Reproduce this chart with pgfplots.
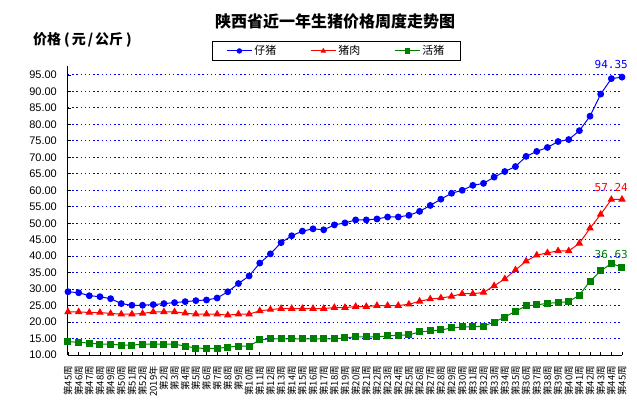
\documentclass[border=0pt]{standalone}
\usepackage{fontspec}
\setmainfont{Liberation Sans}
\newfontfamily\cjk{Noto Sans CJK SC}
\newfontfamily\mono{DejaVu Sans Mono}
\usepackage{pgfplots}
\usepackage{pgfplotstable}
\pgfplotsset{compat=1.18}
\definecolor{pblue}{RGB}{0,0,255}
\definecolor{pred}{RGB}{255,0,0}
\definecolor{pgreen}{RGB}{0,128,0}

\pgfplotstableread{
x blue red green
0 29.2 23.1 14.0
1 28.9 23.1 13.9
2 28.0 22.9 13.6
3 27.7 22.9 13.3
4 27.1 22.6 13.3
5 25.6 22.4 13.0
6 25.1 22.4 13.0
7 25.1 22.6 13.3
8 25.3 23.1 13.3
9 25.6 23.1 13.3
10 25.9 23.1 13.3
11 26.2 22.7 12.7
12 26.5 22.4 12.1
13 26.7 22.4 12.0
14 27.3 22.4 12.0
15 29.2 22.1 12.4
16 31.7 22.4 12.7
17 34.0 22.4 12.7
18 37.9 23.4 14.6
19 40.7 23.8 14.9
20 44.1 24.1 14.9
21 46.2 24.1 14.9
22 47.6 24.1 14.9
23 48.3 24.1 14.9
24 48.0 24.1 14.9
25 49.5 24.4 14.9
26 50.1 24.4 15.2
27 51.0 24.7 15.5
28 51.0 24.7 15.5
29 51.3 25.0 15.5
30 51.9 25.0 15.8
31 51.9 25.0 16.0
32 52.4 25.4 16.1
33 53.6 26.3 17.0
34 55.4 27.0 17.3
35 57.3 27.3 17.6
36 59.1 27.8 18.2
37 60.0 28.6 18.5
38 61.5 28.6 18.5
39 62.1 29.0 18.8
40 64.0 31.0 20.0
41 65.7 33.1 21.5
42 67.2 35.8 23.3
43 70.3 38.5 24.9
44 71.8 40.3 25.2
45 73.0 41.0 25.7
46 74.8 41.6 25.9
47 75.4 41.6 26.2
48 78.1 43.9 28.2
49 82.5 48.5 32.4
50 89.2 52.7 35.5
51 93.9 57.2 37.8
52 94.35 57.24 36.63
}\data

\begin{document}
\begin{tikzpicture}
\path[use as bounding box, fill=white] (-68bp,-49bp) rectangle (569bp,355bp);
\begin{axis}[
  at={(0,0)}, anchor=south west,
  scale only axis, width=554bp, height=289bp,
  xmin=0, xmax=52, ymin=10, ymax=97.73,
  axis lines=left, axis line style={-, black, line width=1bp},
  tick align=inside, major tick length=3bp, tick style={black, line width=0.8bp},
  xtick={0,...,52},
  xticklabels={第45周,第46周,第47周,第48周,第49周,第50周,第51周,第52周,2019年,第2周,第3周,第4周,第5周,第6周,第7周,第8周,第9周,第10周,第11周,第12周,第13周,第14周,第15周,第16周,第17周,第18周,第19周,第20周,第21周,第22周,第23周,第24周,第25周,第26周,第27周,第28周,第29周,第30周,第31周,第32周,第33周,第34周,第35周,第36周,第37周,第38周,第39周,第40周,第41周,第42周,第43周,第44周,第45周},
  xticklabel style={rotate=90, anchor=east, inner sep=0pt, font=\cjk\fontsize{9.5bp}{10bp}\selectfont},
  xticklabel shift=11bp,
  ytick={10,15,...,95},
  yticklabel style={anchor=east, inner sep=0pt, font=\fontsize{11bp}{12bp}\selectfont,
    /pgf/number format/fixed, /pgf/number format/fixed zerofill,
    /pgf/number format/precision=2, /pgf/number format/assume math mode=true},
  yticklabel shift=11bp,
  ymajorgrids, major grid style={pblue, line width=1bp, dash pattern=on 1.5bp off 2.7bp},
  clip=false,
  legend columns=3,
  legend style={at={(axis description cs:0.2599,1.0875)}, anchor=north west,
    draw=black, line width=0.8bp, inner xsep=14bp, inner ysep=2.5bp,
    font=\cjk\fontsize{11bp}{12bp}\selectfont,
    /tikz/every even column/.append style={column sep=32bp}},
  legend image code/.code={\draw[mark repeat=2,mark phase=2,#1,mark size=2.2bp] plot coordinates {(0bp,0bp) (12.5bp,0bp) (25bp,0bp)};},
]
\addplot[pblue, line width=1bp, mark=*, mark size=2.9bp] table[x=x,y=blue] {\data};
\addlegendentry{仔猪}
\addplot[pred, line width=1bp, mark=triangle*, mark size=3.4bp] table[x=x,y=red] {\data};
\addlegendentry{猪肉}
\addplot[pgreen, line width=1bp, mark=square*, mark size=3bp] table[x=x,y=green] {\data};
\addlegendentry{活猪}
\node[anchor=south east, inner sep=0pt, text=pblue, font=\mono\fontsize{11bp}{12bp}\selectfont, xshift=6bp, yshift=8bp] at (axis cs:52,94.35) {94.35};
\node[anchor=south east, inner sep=0pt, text=pred, font=\mono\fontsize{11bp}{12bp}\selectfont, xshift=6bp, yshift=8bp] at (axis cs:52,57.24) {57.24};
\node[anchor=south east, inner sep=0pt, text=pgreen, font=\mono\fontsize{11bp}{12bp}\selectfont, xshift=6bp, yshift=8bp] at (axis cs:52,36.63) {36.63};
\end{axis}
\node[font=\cjk\bfseries\fontsize{16bp}{18bp}\selectfont] at (267bp,333.3bp) {陕西省近一年生猪价格周度走势图};
\node[anchor=west, inner sep=0pt, font=\cjk\bfseries\fontsize{14bp}{15bp}\selectfont] at (-35bp,315bp) {价格\hspace{3bp}(\hspace{2bp}元\hspace{2bp}/\hspace{2bp}公斤\hspace{3bp})};
\end{tikzpicture}
\end{document}
